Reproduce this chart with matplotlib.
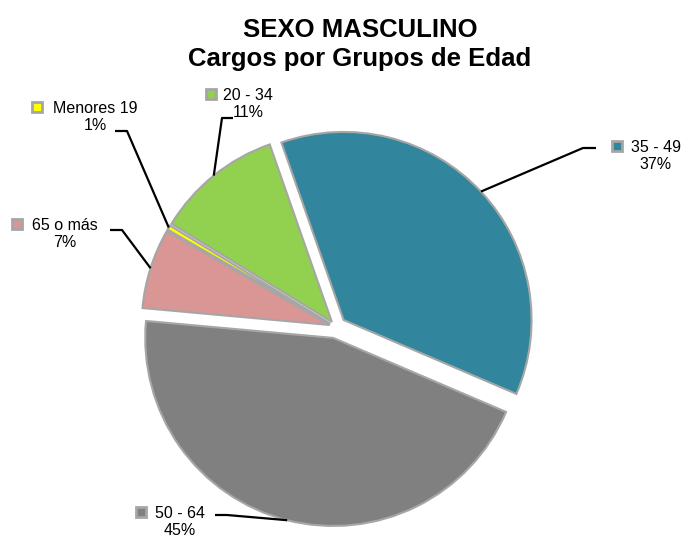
import numpy as np
import matplotlib
matplotlib.use("Agg")
import matplotlib.pyplot as plt

plt.rcParams['font.family'] = ['Liberation Sans', 'DejaVu Sans']

# data (order = clockwise from the top)
groups = ["35 - 49", "50 - 64", "65 o más", "Menores 19", "20 - 34"]
shares = [36.8, 45.0, 6.9, 0.4, 10.9]
pct_labels = ["37%", "45%", "7%", "1%", "11%"]
colors = ["#31859c", "#808080", "#d99694", "#ffff00", "#92d050"]
explode = [0.055, 0.06, 0.035, 0.035, 0.035]

# label layout in pixels
W, H = 685, 539
CX, CY, R = 336, 327, 188
label_key = [(617, 146), (141, 512), (17, 224), (37, 107), (211, 94)]
label_txt_cx = [656, 180, 65, 95, 248]
elbows = [((596, 148), (583, 148)), ((215, 515), (227, 515)), ((110, 230), (122, 230)),
          ((115, 131), (127, 131)), ((233, 118), (222, 118))]


def pos(px, py):
    return (px - CX) / R, (CY - py) / R


fig = plt.figure(figsize=(W / 100, H / 100), dpi=100)
ax = fig.add_axes([0, 0, 1, 1])

wedges, _ = ax.pie(shares, colors=colors, explode=explode, startangle=109.3,
                   counterclock=False, radius=1,
                   wedgeprops=dict(edgecolor="#a6a6a6", linewidth=1.5))

for i, w in enumerate(wedges):
    # leader line from the wedge edge at its mid angle
    ang = np.deg2rad((w.theta1 + w.theta2) / 2)
    sx = w.center[0] + w.r * np.cos(ang)
    sy = w.center[1] + w.r * np.sin(ang)
    e1, e2 = elbows[i]
    x1, y1 = pos(*e1)
    x2, y2 = pos(*e2)
    ax.plot([x1, x2, sx], [y1, y2, sy], color="black", lw=1.6, solid_capstyle="butt")

    kx, ky = pos(*label_key[i])
    ax.plot(kx, ky, marker="s", ms=6.5, mfc=colors[i], mec="#a6a6a6", mew=2)
    tx, _ = pos(label_txt_cx[i], 0)
    _, ty = pos(0, label_key[i][1] + 10)
    ax.text(tx, ty, groups[i] + "\n" + pct_labels[i], ha="center", va="center",
            multialignment="center", fontsize=11.5, linespacing=1.1)

ax.set_xlim(-CX / R, (W - CX) / R)
ax.set_ylim(-(H - CY) / R, CY / R)
ax.set_aspect("equal")
ax.axis("off")

fig.text(360 / W, 1 - 37 / H, "SEXO MASCULINO", ha="center", va="baseline",
         fontsize=18.5, fontweight="bold")
fig.text(360 / W, 1 - 66 / H, "Cargos por Grupos de Edad", ha="center", va="baseline",
         fontsize=18.5, fontweight="bold")

fig.savefig("out.png", dpi=100)
